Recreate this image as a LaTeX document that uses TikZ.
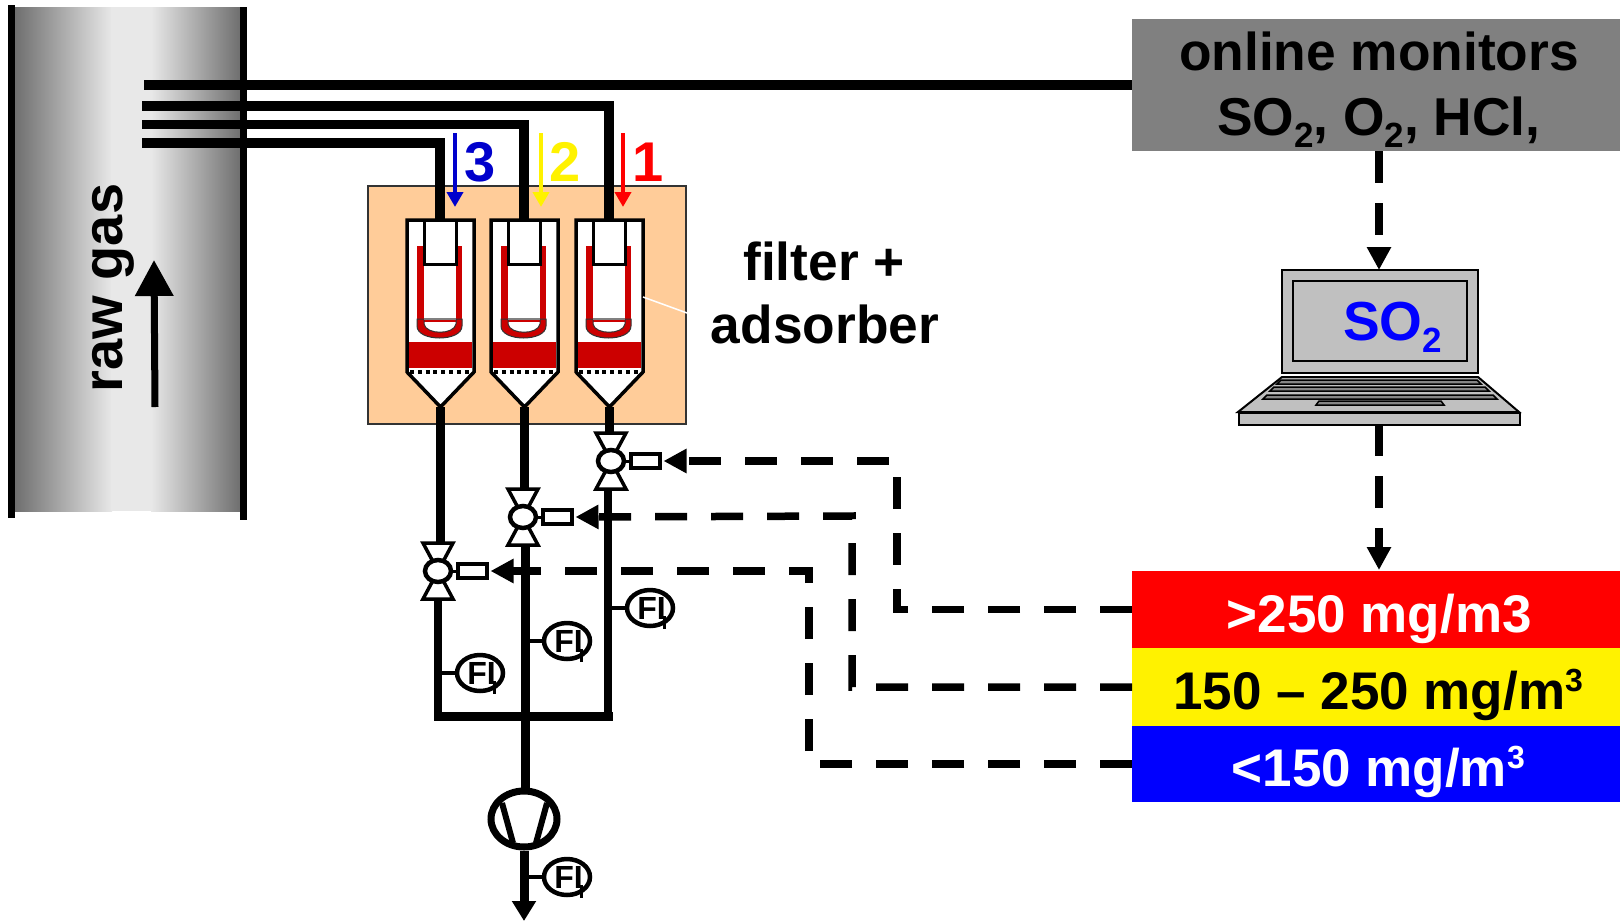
\documentclass[tikz,border=0pt]{standalone}
\usepackage{fontspec}
\setmainfont{Liberation Sans}
\usetikzlibrary{arrows.meta,shapes.geometric}
\definecolor{pipegrey}{HTML}{6E6E6E}
\definecolor{pipelight}{HTML}{E8E8E8}
\definecolor{peach}{HTML}{FFCC99}
\definecolor{fillred}{HTML}{CC0000}
\definecolor{lapgrey}{HTML}{C0C0C0}
\newcommand{\fsz}[1]{\fontsize{#1}{#1}\selectfont\bfseries}
\newcommand{\lowtwo}{\raisebox{-12pt}{\fontsize{35}{35}\selectfont\bfseries 2}}
\newcommand{\highthree}{\raisebox{18pt}{\fontsize{32}{32}\selectfont\bfseries 3}}
\tikzset{
  x=1pt,y=-1pt,
  wall/.style={line width=7pt},
  gasline/.style={line width=9.5pt,line join=miter},
  pipeline/.style={line width=9pt},
  ctrl/.style={line width=7.5pt,dash pattern=on 32pt off 24pt},
  ctrlsolid/.style={ctrl,-{Triangle[length=23pt,width=23pt]}},
  lvl/.style={rectangle,inner sep=0pt,minimum width=488pt,anchor=north west},
  lvltext/.style={font=\fsz{53},inner sep=0pt},
  numlab/.style={font=\fsz{56},inner sep=0pt},
  sample/.style={line width=4pt,-{Triangle[length=15pt,width=16pt]}},
  fi/.style={ellipse,draw,line width=4.5pt,fill=white,inner sep=0pt,minimum width=46pt,minimum height=36pt,font=\fsz{32}},
  fitap/.style={line width=4pt},
  pics/filterunit/.style={code={
    \path[fill=white,draw=black,line width=3.5pt,line join=miter]
      (0,0) -- (67,0) -- (67,152) -- (33.5,187) -- (0,152) -- cycle;
    \fill[fillred] (10,26) rectangle (55,102);
    \fill[white] (17,26) rectangle (49,100);
    \draw[fill=fillred,draw=black!80,line width=1pt]
      (10,99) -- (10,106) .. controls (10,122) and (55,122) .. (55,106) -- (55,99)
      -- (49,99) -- (49,104) .. controls (47,115) and (19,115) .. (17,104) -- (17,99) -- cycle;
    \draw[gray,line width=1.5pt] (17,99) -- (49,99);
    \draw[fill=white,line width=3pt] (17,0) rectangle (49,44);
    \fill[fillred] (2,122) rectangle (65,148);
    \draw[line width=4pt,dash pattern=on 4pt off 3.8pt] (3,151.5) -- (65,151.5);
    \coordinate (-in) at (33,0);
    \coordinate (-out) at (33,187);
  }},
  pics/valve/.style={code={
    \draw[fill=white,line width=3.5pt,line join=miter] (-15,-28) -- (15,-28) -- (0,0) -- cycle;
    \draw[fill=white,line width=3.5pt,line join=miter] (-15,28) -- (15,28) -- (0,0) -- cycle;
    \node[ellipse,draw,fill=white,line width=4.5pt,inner sep=0pt,minimum width=26pt,minimum height=22pt] (-body) at (0,0) {};
    \draw[line width=3pt] (13,0) -- (19,0);
    \node[rectangle,draw,fill=white,line width=4pt,inner sep=0pt,minimum width=29pt,minimum height=14pt] (-act) at (34,0) {};
    \coordinate (-top) at (0,-28);
    \coordinate (-bot) at (0,28);
  }},
}
\begin{document}
\begin{tikzpicture}
\useasboundingbox (0,0) rectangle (1620,921);
% raw gas duct
\shade[left color=pipegrey,right color=pipelight] (14,7) rectangle (112,511);
\fill[pipelight] (111,7) rectangle (152,511);
\shade[left color=pipelight,right color=pipegrey] (151,7) rectangle (241,511);
\draw[wall] (11.5,5) -- (11.5,518);
\draw[wall] (243.5,7) -- (243.5,520);
\node[rotate=90,font=\fsz{56},inner sep=0pt] (rawgas) at (113,288) {raw gas};
\coordinate (flowA) at (155,407);
\coordinate (flowB) at (154,260);
\draw[line width=7pt,-{Triangle[length=36pt,width=37pt]}] (flowA) -- (flowB);
% filter housing
\node[rectangle,draw=black!80,fill=peach,line width=1.5pt,inner sep=0pt,minimum width=318pt,minimum height=238pt] (housing) at (527,305) {};
\pic (fa) at (407,220) {filterunit};
\pic (fb) at (491,220) {filterunit};
\pic (fc) at (576,220) {filterunit};
\coordinate (leaderEnd) at (687,313);
\draw[white,line width=1.5pt] (643,297) -- (leaderEnd);
% monitors box
\node[rectangle,fill=black!50,inner sep=0pt,minimum width=488pt,minimum height=132pt,anchor=north west] (monitors) at (1132,19) {};
\node[font=\fsz{53.3},inner sep=0pt,anchor=base] (monA) at (1379,70) {online monitors};
\node[font=\fsz{53.3},inner sep=0pt,anchor=base] (monB) at (1379,135) {SO\lowtwo, O\lowtwo, HCl,};
% gas sampling lines
\coordinate (gasA) at (144,85);
\coordinate (gasB) at (142,106);
\coordinate (gasC) at (142,124.5);
\coordinate (gasD) at (142,143);
\draw[gasline] (gasA) -- (monitors.west |- gasA);
\draw[gasline] (gasB) -| (fc-in);
\draw[gasline] (gasC) -| (fb-in);
\draw[gasline] (gasD) -| (fa-in);
% sample arrows
\coordinate (sa1) at (455,133);\coordinate (sa2) at (455,207);
\coordinate (sb1) at (541,133);\coordinate (sb2) at (541,207);
\coordinate (sc1) at (623,133);\coordinate (sc2) at (623,207);
\draw[sample,color=blue!80!black] (sa1) -- (sa2);
\draw[sample,color=yellow] (sb1) -- (sb2);
\draw[sample,color=red] (sc1) -- (sc2);
\node[numlab,text=blue!80!black] (n3) at (480,162) {3};
\node[numlab,text=yellow] (n2) at (565.5,162) {2};
\node[numlab,text=red] (n1) at (648,162) {1};
% filter label
\node[font=\fsz{53.3},inner sep=0pt,anchor=base] (lblA) at (824,280) {filter +};
\node[font=\fsz{53.3},inner sep=0pt,anchor=base] (lblB) at (825,343) {adsorber};
% valves and pipework
\pic (va) at (438,571) {valve};
\pic (vb) at (523,517) {valve};
\pic (vc) at (611,461) {valve};
\coordinate (ja) at (438,716);
\coordinate (jb) at (525,716);
\coordinate (jc) at (608,716);
\node[ellipse,draw,line width=7pt,fill=white,inner sep=0pt,minimum width=66pt,minimum height=56pt] (pump) at (524,819) {};
\coordinate (outlet) at (524,921);
\draw[pipeline] (fa-out) -- (fa-out |- va-top);
\draw[pipeline] (fb-out) -- (fb-out |- vb-top);
\draw[pipeline] (fc-out) -- (fc-out |- vc-top);
\draw[pipeline,line cap=rect] (ja) -- (jc);
\draw[line width=8pt] (va-bot) -- (ja);
\draw[pipeline] (jb |- vb-bot) -- (jb |- pump.north);
\draw[line width=8pt] (jc |- vc-bot) -- (jc);
\draw[pipeline,-{Triangle[length=20pt,width=23pt]}] (pump.south) -- (outlet);
% pump blades
\coordinate (ba) at (502,803);\coordinate (bb) at (513,843);
\coordinate (bc) at (547,803);\coordinate (bd) at (536,843);
\draw[line width=6pt] (ba) -- (bb);
\draw[line width=6pt] (bc) -- (bd);
% flow indicators
\foreach \nm/\px/\py/\cx in {fia/438/673/480,fib/525/641/567,fic/608/608/650,fid/524/877/567}{
  \node[fi] (\nm) at (\cx,\py) {\hspace*{3pt}FI};
  \coordinate (\nm t) at (\px,\py);
  \draw[fitap] (\nm t) -- (\nm.west);
  \draw[line width=3pt] ([shift={(14,8)}]\nm.center) -- ([shift={(14,21)}]\nm.center);
}
% level boxes
\node[lvl,fill=red,minimum height=77pt] (lred) at (1132,571) {};
\node[lvl,fill=yellow,minimum height=78pt] (lyel) at (1132,648) {};
\node[lvl,fill=blue,minimum height=76pt] (lblu) at (1132,726) {};
\node[lvltext,text=white] (tred) at ([shift={(3,9)}]lred.center) {>250 mg/m3};
\node[lvltext,text=black] (tyel) at ([shift={(2,8)}]lyel.center) {150 – 250 mg/m\highthree};
\node[lvltext,text=white] (tblu) at ([shift={(2,8)}]lblu.center) {<150 mg/m\highthree};
% laptop
\node[rectangle,draw,fill=lapgrey,line width=2pt,inner sep=0pt,minimum width=196pt,minimum height=103pt] (screen) at (1380,321.5) {};
\node[rectangle,draw,fill=lapgrey,line width=2.5pt,inner sep=0pt,minimum width=174pt,minimum height=80pt] (display) at (1380,321) {};
\node[inner sep=0pt,anchor=base west,text=blue,font=\fsz{55}] (so) at (1343,340) {SO\lowtwo};
\draw[fill=lapgrey,line width=2pt] (1238,412) -- (1282,377) -- (1478,377) -- (1519,412) -- cycle;
\node[rectangle,draw,fill=lapgrey,line width=2pt,inner sep=0pt,minimum width=281pt,minimum height=12pt,anchor=north west] (lapbase) at (1238,412) {};
\foreach \y/\a/\b in {382/1277/1481,389/1270/1489,397/1263/1497}
  \draw[fill=lapgrey!70!black,line width=1.5pt] (\a,\y+2) -- (\a+4,\y-2) -- (\b-4,\y-2) -- (\b,\y+2) -- cycle;
\draw[fill=lapgrey!70!black,line width=1.5pt] (1316,405) -- (1319,401) -- (1441,401) -- (1444,405) -- cycle;
% control signals
\coordinate (monOut) at (1379,151);
\coordinate (lapIn) at (1379,270);
\coordinate (lapOut) at (1379,424);
\coordinate (lvlIn) at (1379,570);
\draw[ctrlsolid,dash pattern=on 32pt off 20pt] (monOut) -- (lapIn);
\draw[ctrlsolid,dash pattern=on 32pt off 20pt] (lapOut) -- (lvlIn);
\coordinate (ca) at (897,461);
\coordinate (cb) at (852,516);
\coordinate (cc) at (809,571);
\draw[ctrlsolid] (lred.west) -| (ca) -- ([xshift=2pt]vc-act.east);
\draw[ctrlsolid] (lyel.west) -| (cb) -- ([xshift=2pt]vb-act.east);
\draw[ctrlsolid] (lblu.west) -| (cc) -- ([xshift=2pt]va-act.east);
\end{tikzpicture}
\end{document}
